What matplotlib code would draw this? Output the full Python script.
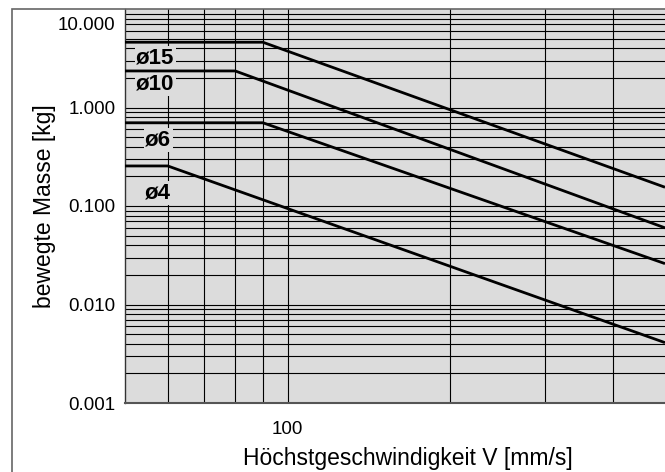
import matplotlib
matplotlib.use("Agg")
import matplotlib.pyplot as plt
from matplotlib.patches import Rectangle
from matplotlib.ticker import FixedLocator, NullLocator
import matplotlib.transforms as mtransforms

plt.rcParams['font.family'] = ['Liberation Sans', 'DejaVu Sans']

# Data
series_labels = ["ø15", "ø10", "ø6", "ø4"]
v_15 = [50, 90, 500]
m_15 = [4.6, 4.6, 0.155]
v_10 = [50, 80, 500]
m_10 = [2.35, 2.35, 0.06]
v_6 = [50, 90, 500]
m_6 = [0.70, 0.70, 0.026]
v_4 = [50, 60, 500]
m_4 = [0.255, 0.255, 0.0041]

y_ticks = [0.001, 0.01, 0.1, 1, 10]
y_tick_labels = ["0.001", "0.010", "0.100", "1.000", "10.000"]
x_ticks = [100]
x_tick_labels = ["100"]
x_grid = [60, 70, 80, 90, 100, 200, 300, 400]

label_pos = [(52.5, 3.2), (52.5, 1.72), (54.5, 0.47), (54.5, 0.136)]

W, H = 665, 472
fig = plt.figure(figsize=(W / 100, H / 100), dpi=100)
ax = fig.add_axes([125 / W, 1 - 403 / H, (W - 125) / W, (403 - 9) / H])
ax.set_facecolor('#dcdcdc')
ax.set_xscale('log')
ax.set_yscale('log')
ax.set_xlim(50, 500)
ax.set_ylim(0.001, 10)

# grid lines
ygrid = []
for dec in [0.001, 0.01, 0.1, 1]:
    for k in range(1, 10):
        ygrid.append(dec * k)
for yv in ygrid[1:]:
    ax.axhline(yv, color='black', lw=0.8, zorder=1)
for xv in x_grid:
    ax.axvline(xv, color='black', lw=0.8, zorder=1)

for v, m in [(v_15, m_15), (v_10, m_10), (v_6, m_6), (v_4, m_4)]:
    ax.plot(v, m, color='black', lw=2.0, zorder=3, solid_capstyle='butt')

for lab, (xp, yp) in zip(series_labels, label_pos):
    ax.text(xp, yp, lab, fontsize=16, fontweight='bold', ha='left', va='center',
            zorder=2, bbox=dict(facecolor='#dcdcdc', edgecolor='none', pad=1.0))

ax.xaxis.set_major_locator(FixedLocator(x_ticks))
ax.set_xticklabels(x_tick_labels)
ax.xaxis.set_minor_locator(NullLocator())
ax.yaxis.set_major_locator(FixedLocator(y_ticks))
ax.set_yticklabels(y_tick_labels)
ax.yaxis.set_minor_locator(NullLocator())
ax.tick_params(axis='both', length=0, labelsize=13.5)
ax.tick_params(axis='y', pad=7)
ax.tick_params(axis='x', pad=13)

# shift top label down
lab10 = ax.get_yticklabels()[-1]
lab10.set_transform(lab10.get_transform() + mtransforms.ScaledTranslation(0, -15 / 100, fig.dpi_scale_trans))

for s in ['top', 'right']:
    ax.spines[s].set_visible(False)
ax.spines['left'].set_color('#333333')
ax.spines['bottom'].set_color('#555555')
ax.spines['left'].set_linewidth(1.0)
ax.spines['bottom'].set_linewidth(1.5)

ax.set_xlabel("Höchstgeschwindigkeit V [mm/s]", fontsize=16.5, va='center')
ax.xaxis.set_label_coords((408 - 125) / (W - 125), -(458 - 403) / (403 - 9))
ax.set_ylabel("bewegte Masse [kg]", fontsize=16.5, va='center')
ax.yaxis.set_label_coords(-(125 - 45) / (W - 125), 0.5)

# outer frame
fig.patches.append(Rectangle((12 / W, -0.1), 1.2, 1 - 9 / H + 0.1, transform=fig.transFigure,
                             fill=False, edgecolor='#666666', lw=1.2, zorder=0))

fig.savefig("out.png", dpi=100)
